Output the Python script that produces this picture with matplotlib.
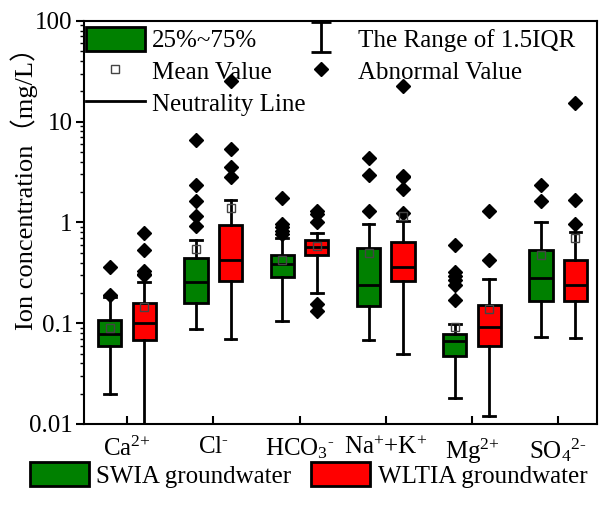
import matplotlib
matplotlib.use("Agg")
import matplotlib.pyplot as plt
from matplotlib.lines import Line2D
from matplotlib.patches import Patch
from matplotlib.path import Path

plt.rcParams['font.family'] = ['Liberation Serif', 'Noto Sans CJK SC']
plt.rcParams['mathtext.fontset'] = 'custom'
plt.rcParams['mathtext.rm'] = 'Liberation Serif'
plt.rcParams['mathtext.it'] = 'Liberation Serif'

ions = [r'Ca$^{\text{2+}}$', r'Cl$^{\text{-}}$', r'HCO$_{\text{3}}$$^{\text{-}}$',
        r'Na$^{\text{+}}$+K$^{\text{+}}$', r'Mg$^{\text{2+}}$',
        r'SO$_{\text{4}}$$^{\text{2-}}$']

# SWIA groundwater (green)
swia_whislo = [0.0197, 0.0875, 0.106, 0.068, 0.018, 0.0723]
swia_q1 = [0.0588, 0.159, 0.29, 0.147, 0.0475, 0.168]
swia_med = [0.079, 0.255, 0.388, 0.241, 0.067, 0.281]
swia_q3 = [0.108, 0.441, 0.47, 0.56, 0.078, 0.527]
swia_whishi = [0.181, 0.677, 0.70, 0.955, 0.098, 1.02]
swia_mean = [0.089, 0.547, 0.428, 0.50, 0.091, 0.47]
swia_out = [[0.36, 0.19],
            [6.65, 2.37, 1.62, 1.15, 0.93],
            [1.75, 0.97, 0.90, 0.82, 0.77],
            [4.4, 2.98, 1.30],
            [0.60, 0.325, 0.296, 0.27, 0.24, 0.171],
            [2.33, 1.62]]

# WLTIA groundwater (red)
wltia_whislo = [0.010, 0.070, 0.198, 0.0493, 0.012, 0.072]
wltia_q1 = [0.0685, 0.26, 0.47, 0.26, 0.0597, 0.168]
wltia_med = [0.0996, 0.428, 0.568, 0.36, 0.091, 0.241]
wltia_q3 = [0.159, 0.95, 0.677, 0.637, 0.152, 0.428]
wltia_whishi = [0.259, 1.66, 0.79, 1.03, 0.273, 0.81]
wltia_mean = [0.144, 1.39, 0.59, 1.15, 0.138, 0.70]
wltia_out = [[0.79, 0.535, 0.33, 0.31, 0.30],
             [25.5, 5.4, 3.55, 2.82],
             [1.29, 1.22, 1.0, 0.155, 0.133],
             [22.7, 2.9, 2.8, 2.13, 1.25],
             [1.29, 0.42],
             [15.4, 1.66, 0.955]]

green = '#008000'
red = '#FF0000'
fs = 18


def stats(lo, q1, med, q3, hi, mean, out):
    return [dict(whislo=lo[i], q1=q1[i], med=med[i], q3=q3[i], whishi=hi[i],
                 mean=mean[i], fliers=out[i]) for i in range(len(lo))]


fig = plt.figure(figsize=(6.08, 5.09), dpi=100)
ax = fig.add_axes([0.138, 0.167, 0.844, 0.792])

pos = list(range(1, len(ions) + 1))
common = dict(widths=0.27, patch_artist=True, showmeans=True,
              boxprops=dict(linewidth=2, edgecolor='black'),
              medianprops=dict(color='black', linewidth=2),
              whiskerprops=dict(color='black', linewidth=2),
              capprops=dict(color='black', linewidth=2),
              meanprops=dict(marker='s', markerfacecolor='none',
                             markeredgecolor='#444444', markersize=6,
                             markeredgewidth=1),
              flierprops=dict(marker='D', markerfacecolor='black',
                              markeredgecolor='black', markersize=7))

b1 = ax.bxp(stats(swia_whislo, swia_q1, swia_med, swia_q3, swia_whishi,
                  swia_mean, swia_out),
            positions=[p - 0.2 for p in pos], **common)
b2 = ax.bxp(stats(wltia_whislo, wltia_q1, wltia_med, wltia_q3, wltia_whishi,
                  wltia_mean, wltia_out),
            positions=[p + 0.2 for p in pos], **common)
for b in b1['boxes']:
    b.set_facecolor(green)
for b in b2['boxes']:
    b.set_facecolor(red)

ax.set_yscale('log')
ax.set_ylim(0.01, 100)
ax.set_xlim(0.5, 6.45)
ax.set_yticks([0.01, 0.1, 1, 10, 100])
ax.set_yticklabels(['0.01', '0.1', '1', '10', '100'])
ax.set_xticks(pos)
ax.set_xticklabels(ions)
ax.tick_params(axis='y', which='major', direction='out', length=6, width=1.5,
               labelsize=fs, pad=2)
ax.tick_params(axis='y', which='minor', direction='out', length=3, width=1)
ax.tick_params(axis='x', direction='in', length=6, width=1.5, labelsize=fs,
               pad=9)
for s in ax.spines.values():
    s.set_linewidth(1.5)
ax.set_ylabel('Ion concentration（mg/L）', fontsize=19, va='center')
ax.yaxis.set_label_coords(-0.117, 0.6)

ibeam = Path([(-0.7, 1), (0.7, 1), (0, 1), (0, -1), (-0.7, -1), (0.7, -1)],
             [Path.MOVETO, Path.LINETO, Path.MOVETO, Path.LINETO,
              Path.MOVETO, Path.LINETO])
h_box = Patch(facecolor=green, edgecolor='black', linewidth=2)
h_mean = Line2D([], [], ls='none', marker='s', mfc='none', mec='#444444',
                ms=6, mew=1)
h_line = Line2D([], [], color='black', lw=2)
h_range = Line2D([], [], ls='none', marker=ibeam, ms=21, mec='black',
                 mew=2)
h_out = Line2D([], [], ls='none', marker='D', mfc='black', mec='black', ms=7)
ax.legend([h_box, h_mean, h_line, h_range, h_out],
          ['25%~75%', 'Mean Value', 'Neutrality Line',
           'The Range of 1.5IQR', 'Abnormal Value'],
          ncol=2, loc='upper left', bbox_to_anchor=(0.004, 0.985),
          frameon=False, fontsize=fs, borderpad=0, borderaxespad=0,
          handlelength=2.35, handleheight=1.1, handletextpad=0.3,
          labelspacing=0.25, columnspacing=-0.55)

fig.legend([Patch(facecolor=green, edgecolor='black', linewidth=2),
            Patch(facecolor=red, edgecolor='black', linewidth=2)],
           ['SWIA groundwater', 'WLTIA groundwater'],
           ncol=2, loc='upper left', bbox_to_anchor=(30 / 608, 1 - 462 / 509),
           frameon=False, fontsize=fs, borderpad=0, borderaxespad=0,
           handlelength=2.35, handleheight=1.1, handletextpad=0.3,
           columnspacing=0.8)

fig.savefig('out.png', dpi=100)
